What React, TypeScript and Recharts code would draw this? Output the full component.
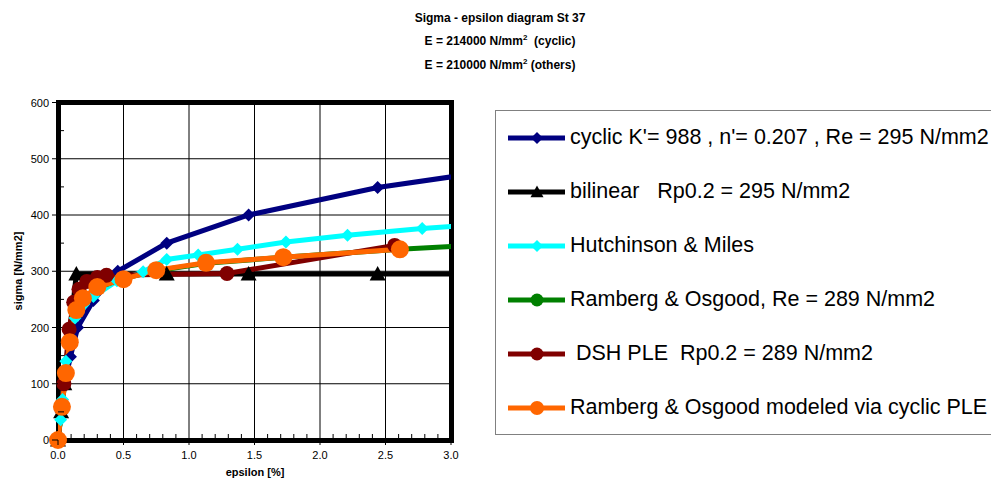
import React from 'react';
import { LineChart, Line, XAxis, YAxis, CartesianGrid } from 'recharts';

// epsilon [%] / sigma [N/mm2]
const cyclicEps = [0, 0.024, 0.05, 0.095, 0.15, 0.27, 0.456, 0.83, 1.455, 2.44, 3.96];
const cyclicSigma = [0, 50, 100, 148, 200, 248, 300, 350, 400, 449, 500];

const bilinearEps = [0, 0.024, 0.048, 0.14, 0.83, 1.455, 2.44, 4.0];
const bilinearSigma = [0, 50, 100, 295, 295, 295, 295, 295];

const hutchEps = [0, 0.02, 0.035, 0.06, 0.13, 0.27, 0.45, 0.65, 0.83, 1.07, 1.37, 1.74, 2.21, 2.78, 3.5];
const hutchSigma = [0, 36, 72, 140, 217, 255, 283, 299, 321, 329, 339, 352, 364, 376, 388];

const rambergEps = [0, 0.03, 0.06, 0.09, 0.14, 0.19, 0.3, 0.5, 0.75, 1.13, 1.72, 2.61, 3.5];
const rambergSigma = [0, 59, 118, 173, 231, 252, 271, 287, 301, 314, 325, 339, 350];

const dshEps = [0, 0.045, 0.085, 0.12, 0.16, 0.22, 0.3, 0.37, 1.29, 2.57];
const dshSigma = [0, 100, 197, 245, 268, 282, 289, 293, 296, 346];

const modeledEps = [0, 0.03, 0.06, 0.09, 0.14, 0.19, 0.3, 0.5, 0.75, 1.13, 1.72, 2.61];
const modeledSigma = [0, 59, 119, 174, 231, 252, 272, 286, 302, 315, 325, 339];

const xTicks = [0, 0.1, 0.2, 0.3, 0.4, 0.5, 0.6, 0.7, 0.8, 0.9, 1.0, 1.1, 1.2, 1.3, 1.4, 1.5, 1.6, 1.7, 1.8, 1.9, 2.0, 2.1, 2.2, 2.3, 2.4, 2.5, 2.6, 2.7, 2.8, 2.9, 3.0];
const xMajor = [0, 0.5, 1.0, 1.5, 2.0, 2.5, 3.0];
const yTicks = [0, 50, 100, 150, 200, 250, 300, 350, 400, 450, 500, 550, 600];
const yMajor = [0, 100, 200, 300, 400, 500, 600];

const zip = (xs: number[], ys: number[]) => xs.map((x, i) => ({ x, y: ys[i] }));

const FONT = '"Liberation Sans", Arial, sans-serif';

type Shape = 'diamond' | 'triangle' | 'circle';

const Marker = ({ cx, cy, shape, size, color }: { cx: number; cy: number; shape: Shape; size: number; color: string }) => {
  if (shape === 'diamond') {
    const h = size / 2;
    return <path d={`M${cx},${cy - h}L${cx + h},${cy}L${cx},${cy + h}L${cx - h},${cy}Z`} fill={color} />;
  }
  if (shape === 'triangle') {
    const h = size / 2;
    return <path d={`M${cx},${cy - h}L${cx + h},${cy + h * 0.8}L${cx - h},${cy + h * 0.8}Z`} fill={color} />;
  }
  return <circle cx={cx} cy={cy} r={size / 2} fill={color} />;
};

const series = [
  { name: "cyclic K'= 988 , n'= 0.207 , Re = 295 N/mm2", data: zip(cyclicEps, cyclicSigma), color: '#000080', shape: 'diamond' as Shape, size: 13, legendSize: 12 },
  { name: 'bilinear   Rp0.2 = 295 N/mm2', data: zip(bilinearEps, bilinearSigma), color: '#000000', shape: 'triangle' as Shape, size: 16, legendSize: 13 },
  { name: 'Hutchinson & Miles', data: zip(hutchEps, hutchSigma), color: '#00FFFF', shape: 'diamond' as Shape, size: 13, legendSize: 12 },
  { name: 'Ramberg & Osgood, Re = 289 N/mm2', data: zip(rambergEps, rambergSigma), color: '#008000', shape: 'circle' as Shape, size: 14, legendSize: 13 },
  { name: ' DSH PLE  Rp0.2 = 289 N/mm2', data: zip(dshEps, dshSigma), color: '#800000', shape: 'circle' as Shape, size: 15, legendSize: 13 },
  { name: 'Ramberg & Osgood modeled via cyclic PLE', data: zip(modeledEps, modeledSigma), color: '#FF6600', shape: 'circle' as Shape, size: 18, legendSize: 14 },
];

const isMajor = (v: number, step: number) => Math.abs(v / step - Math.round(v / step)) < 1e-6;

const XTick = (props: any) => {
  const { x, y, payload } = props;
  const v = payload.value as number;
  if (isMajor(v, 0.5)) {
    return (
      <g>
        <line x1={x} y1={y} x2={x} y2={y + 5} stroke="#000" strokeWidth={1} />
        <text x={x} y={y + 19} textAnchor="middle" fontSize={11} fontFamily={FONT} fill="#000">
          {v.toFixed(1)}
        </text>
      </g>
    );
  }
  return <line x1={x} y1={y} x2={x} y2={y - 6} stroke="#000" strokeWidth={1} />;
};

const YTick = (props: any) => {
  const { x, y, payload } = props;
  const v = payload.value as number;
  if (isMajor(v, 100)) {
    return (
      <g>
        <line x1={x - 6} y1={y} x2={x} y2={y} stroke="#000" strokeWidth={1} />
        <text x={x - 9} y={y + 4} textAnchor="end" fontSize={11} fontFamily={FONT} fill="#000">
          {v}
        </text>
      </g>
    );
  }
  return <line x1={x} y1={y} x2={x + 6} y2={y} stroke="#000" strokeWidth={1} />;
};

const LegendIcon = ({ color, shape, size }: { color: string; shape: Shape; size: number }) => (
  <svg width={58} height={20} style={{ display: 'block', flex: 'none' }}>
    <line x1={0} y1={10} x2={57} y2={10} stroke={color} strokeWidth={5} />
    <Marker cx={29} cy={10} shape={shape} size={size} color={color} />
  </svg>
);

export default function App() {
  return (
    <div style={{ position: 'absolute', left: 0, top: 0, width: 991, height: 481, overflow: 'hidden', background: '#fff', fontFamily: FONT }}>
      {/* title */}
      <div style={{ position: 'absolute', left: 0, top: 7, width: 1000, textAlign: 'center', fontSize: 12, fontWeight: 'bold', lineHeight: '23px', color: '#000' }}>
        <div>Sigma - epsilon diagram St 37</div>
        <div>
          E = 214000 N/mm<span style={{ fontSize: 8, position: 'relative', top: -5 }}>2</span>{'\u00a0 (cyclic)'}
        </div>
        <div>
          E = 210000 N/mm<span style={{ fontSize: 8, position: 'relative', top: -5 }}>2</span> (others)
        </div>
      </div>

      {/* plot frame */}
      <div style={{ position: 'absolute', left: 55.5, top: 100, width: 398, height: 342.5, border: '5px solid #000', boxSizing: 'border-box' }} />

      <div style={{ position: 'absolute', left: 0, top: 0 }}>
        <LineChart width={991} height={481} margin={{ top: 102.5, right: 540, bottom: 0, left: 0 }}>
          <CartesianGrid stroke="#000" strokeWidth={1} verticalValues={xMajor} horizontalValues={yMajor} />
          <XAxis
            dataKey="x"
            type="number"
            domain={[0, 3]}
            allowDataOverflow
            ticks={xTicks}
            interval={0}
            height={41}
            tickSize={0}
            tickMargin={0}
            axisLine={false}
            tickLine={false}
            tick={<XTick />}
          />
          <XAxis xAxisId="pts" dataKey="x" type="number" domain={[0, 3]} hide />
          <YAxis
            type="number"
            domain={[0, 600]}
            ticks={yTicks}
            interval={0}
            width={58}
            tickSize={0}
            tickMargin={0}
            axisLine={false}
            tickLine={false}
            tick={<YTick />}
          />
          {series.map((s, i) => (
            <Line
              key={`line-${i}`}
              data={s.data}
              dataKey="y"
              stroke={s.color}
              strokeWidth={5}
              dot={false}
              activeDot={false}
              isAnimationActive={false}
              type="linear"
            />
          ))}
          {series.map((s, i) => (
            <Line
              key={`dots-${i}`}
              xAxisId="pts"
              data={s.data.filter((p) => p.x <= 3)}
              dataKey="y"
              stroke="none"
              dot={(p: any) => <Marker key={`m-${i}-${p.index}`} cx={p.cx} cy={p.cy} shape={s.shape} size={s.size} color={s.color} />}
              activeDot={false}
              isAnimationActive={false}
            />
          ))}
        </LineChart>
      </div>

      {/* axis titles */}
      <div style={{ position: 'absolute', left: 18, top: 271, transform: 'translate(-50%, -50%) rotate(-90deg)', whiteSpace: 'nowrap', fontSize: 11, fontWeight: 'bold' }}>
        sigma [N/mm2]
      </div>
      <div style={{ position: 'absolute', left: 255, top: 466, transform: 'translateX(-50%)', whiteSpace: 'nowrap', fontSize: 11, fontWeight: 'bold', lineHeight: '13px' }}>
        epsilon [%]
      </div>

      {/* legend */}
      <div style={{ position: 'absolute', left: 495, top: 110, width: 540, height: 325, border: '1px solid #808080', boxSizing: 'border-box' }}>
        {series.map((s, i) => (
          <div
            key={`leg-${i}`}
            style={{ position: 'absolute', left: 12, top: 11.5 + i * 54, height: 30, display: 'flex', alignItems: 'center', whiteSpace: 'pre', fontSize: 21.5, color: '#000' }}
          >
            <LegendIcon color={s.color} shape={s.shape} size={s.legendSize} />
            <span style={{ marginLeft: 4 }}>{s.name}</span>
          </div>
        ))}
      </div>
    </div>
  );
}
